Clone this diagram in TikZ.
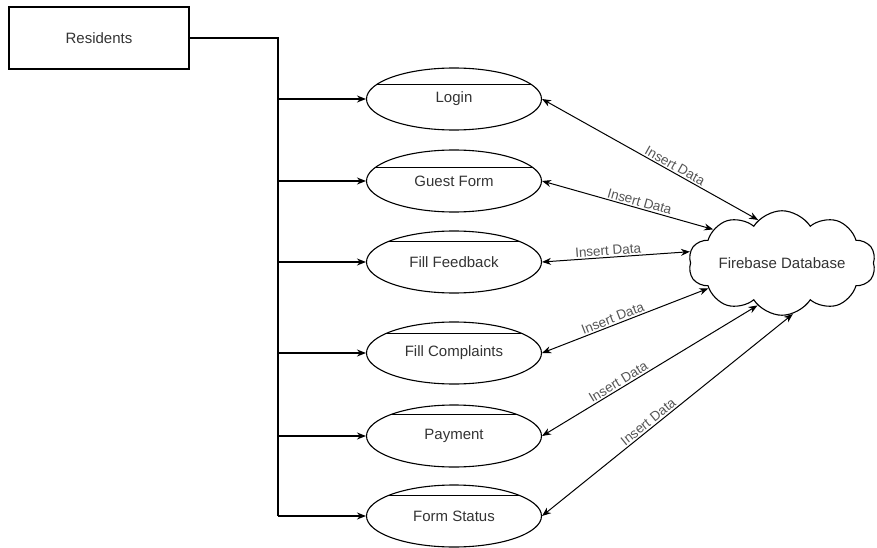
\documentclass[tikz,border=0pt]{standalone}
\usepackage{fontspec}
\setmainfont{Liberation Sans}
\usetikzlibrary{shapes.geometric,shapes.symbols,arrows.meta}

\definecolor{txtgray}{HTML}{333333}
\definecolor{lblgray}{HTML}{555555}

\tikzset{
  actorbox/.style={draw, line width=1.1pt, minimum width=180pt, minimum height=62pt,
    text=txtgray, font=\fontsize{15}{18}\selectfont},
  usecase/.style={draw, ellipse, line width=1.1pt, minimum width=175pt, minimum height=62pt,
    inner sep=0pt, text=txtgray, font=\fontsize{15}{18}\selectfont,
    path picture={\draw[line width=0.8pt]
      ([yshift=-#1]path picture bounding box.north west) --
      ([yshift=-#1]path picture bounding box.north east);}},
  usecase/.default=10pt,
  dbcloud/.style={draw, cloud, cloud puffs=10, cloud puff arc=115, aspect=2.3,
    line width=1.1pt, minimum width=187pt, minimum height=88pt, inner sep=0pt,
    text=txtgray, font=\fontsize{15}{18}\selectfont},
  arr/.style={line width=1.1pt, -{Stealth[length=9pt,width=7pt]}},
  dbl/.style={line width=1pt, {Stealth[length=9pt,width=7pt]}-{Stealth[length=9pt,width=7pt]}},
  lbl/.style={text=lblgray, font=\fontsize{13.5}{16}\selectfont, inner sep=1.5pt}
}

\begin{document}
\begin{tikzpicture}[x=1pt,y=-1pt]
\useasboundingbox (0,0) rectangle (877,548);

\def\tx{278} % x of the vertical trunk line
\def\ux{454} % x of the use case centres

\node[actorbox] (res) at (99,38) {Residents};
\node[dbcloud] (db) at (782,263) {Firebase Database};

% name / text / y / chord offset / angle on the cloud / label position
\foreach \nm/\txt/\yy/\cut/\ang/\ps in {
    login/Login/99/16pt/119/0.6,
    guest/Guest Form/181/17pt/154/0.56,
    feed/Fill Feedback/262/10pt/173/0.45,
    compl/Fill Complaints/353/11pt/199/0.44,
    pay/Payment/436/9pt/240/0.37,
    status/Form Status/516/10pt/282/0.44}
{
  \node[usecase=\cut] (\nm) at (\ux,\yy) {\txt};
  \coordinate (b\nm) at (\tx,\yy); %branch point on the trunk
  \draw[arr] (b\nm) -- (\nm);
  \draw[dbl] (\nm.east) -- node[lbl, pos=\ps, above, sloped] {Insert Data} (db.\ang);
}

\draw[line width=1.1pt] (res.east) -| (bstatus);
\end{tikzpicture}
\end{document}
